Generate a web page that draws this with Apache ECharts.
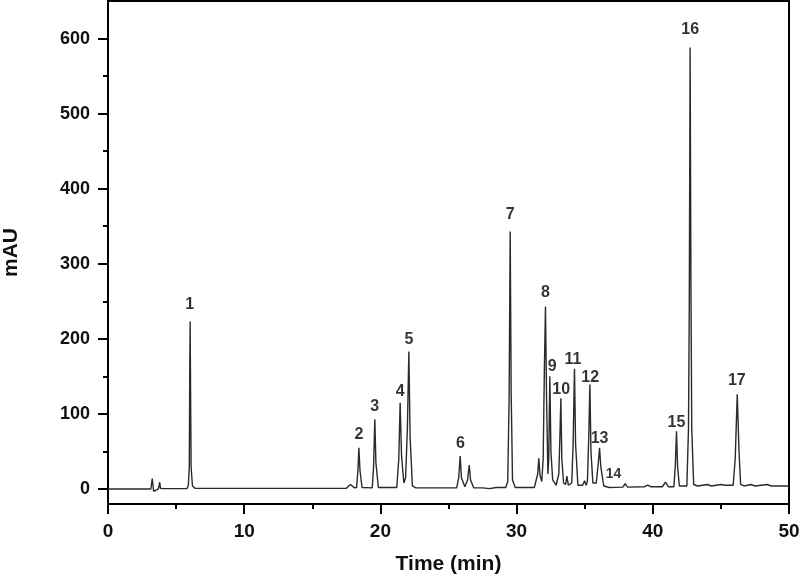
<!DOCTYPE html>
<html>
<head>
<meta charset="utf-8">
<script src="https://cdn.jsdelivr.net/npm/echarts@6/dist/echarts.min.js"></script>
<style>html,body{margin:0;padding:0;background:#fff;}#c{width:800px;height:583px;}</style>
</head>
<body>
<div id="c"></div>
<script>
// Chromatogram trace: [time (min), signal (mAU)]
var signal = [
  [0, 0], [3.15, 0], [3.25, 14], [3.3, 13], [3.35, -3], [3.5, -2], [3.7, 0], [3.8, 9], [3.85, 1], [4.0, 0.5],
  [5.8, 0.5], [5.9, 5], [5.97, 30], [6.0, 150], [6.03, 223], [6.06, 140], [6.1, 30], [6.2, 4], [6.4, 0.8],
  [17.5, 1], [17.8, 6], [18.1, 1.5],
  [18.25, 2], [18.35, 25], [18.42, 55], [18.5, 25], [18.65, 2],
  [19.4, 1.5], [19.5, 30], [19.59, 93], [19.67, 35], [19.85, 2],
  [21.2, 2], [21.35, 40], [21.45, 115], [21.55, 45], [21.72, 8], [21.85, 15], [21.98, 80], [22.09, 183], [22.18, 70], [22.35, 4], [22.6, 1.5],
  [25.6, 1.5], [25.75, 15], [25.86, 44], [25.95, 15], [26.2, 3], [26.4, 12], [26.52, 32], [26.62, 12], [26.85, 1.5],
  [27.5, 1.5], [28.0, 0.5], [28.5, 2], [29.2, 2], [29.35, 10], [29.45, 120], [29.53, 343], [29.6, 130], [29.7, 12], [29.9, 2],
  [31.3, 2], [31.55, 20], [31.63, 41], [31.72, 18], [31.85, 10], [31.95, 40], [32.04, 160], [32.12, 243], [32.2, 120], [32.3, 20],
  [32.36, 40], [32.44, 150], [32.52, 50], [32.65, 12], [32.9, 5], [33.1, 20], [33.18, 70], [33.25, 121], [33.32, 40], [33.45, 8],
  [33.6, 6], [33.69, 17], [33.8, 5], [34.05, 8], [34.15, 60], [34.25, 160], [34.33, 60], [34.5, 5], [34.85, 5], [34.99, 11],
  [35.1, 5], [35.2, 10], [35.3, 70], [35.38, 139], [35.46, 50], [35.6, 8], [35.85, 8], [36.0, 35], [36.09, 55], [36.18, 30],
  [36.4, 4], [36.8, 2],
  [37.8, 2.5], [37.97, 7], [38.15, 2.5], [39.4, 3], [39.63, 5], [39.85, 3], [40.7, 3], [40.93, 9], [41.15, 3],
  [41.55, 3], [41.65, 30], [41.74, 77], [41.82, 30], [41.95, 4],
  [42.5, 4], [42.62, 80], [42.68, 250], [42.74, 588], [42.8, 270], [42.86, 80], [43.0, 6], [43.3, 4],
  [44.0, 6], [44.3, 4], [45.0, 6], [45.3, 5], [45.9, 5], [46.05, 40], [46.2, 126], [46.33, 50], [46.45, 6], [46.7, 4],
  [47.2, 6], [47.5, 4], [48.4, 6], [48.7, 4], [50, 4]
];
// Peak number labels: anchor [time, mAU] and text
var peakNames = ['1','2','3','4','5','6','7','8','9','10','11','12','13','14','15','16','17'];
var peakLabelTime = [6.0, 18.42, 19.59, 21.45, 22.09, 25.88, 29.53, 32.12, 32.61, 33.27, 34.13, 35.40, 36.09, 37.11, 41.74, 42.75, 46.17];
var peakLabelMAU = [246, 72, 110, 130, 199, 61, 366, 261, 163, 133, 172, 149, 67, 20, 88, 612, 145];
var yMajorTicks = [0, 100, 200, 300, 400, 500, 600];
var yMinorTicks = [50, 150, 250, 350, 450, 550];

var labelData = peakNames.map(function (n, i) {
  return { value: [peakLabelTime[i], peakLabelMAU[i]], name: n,
    label: { fontSize: n === '14' ? 14 : 16 } };
});

var font = 'Liberation Sans, Arial, sans-serif';
var chart = echarts.init(document.getElementById('c'), null, { renderer: 'canvas' });
chart.setOption({
  backgroundColor: '#fff',
  animation: false,
  grid: { left: 108, right: 11, top: 1, bottom: 79, containLabel: false, outerBoundsMode: 'none',
    show: true, borderColor: '#000', borderWidth: 2, backgroundColor: 'transparent' },
  xAxis: {
    type: 'value', min: 0, max: 50, interval: 10,
    name: 'Time (min)', nameLocation: 'middle', nameGap: 50,
    nameTextStyle: { fontFamily: font, fontSize: 21, fontWeight: 'bold', color: '#111' },
    axisLine: { show: true, onZero: false, lineStyle: { color: '#000', width: 2 } },
    axisTick: { show: true, inside: false, length: 10, lineStyle: { color: '#000', width: 2 } },
    minorTick: { show: true, splitNumber: 2, length: 5, lineStyle: { color: '#000', width: 2 } },
    axisLabel: { fontFamily: font, fontSize: 19, fontWeight: 'bold', color: '#111', margin: 18 },
    splitLine: { show: false }, minorSplitLine: { show: false }
  },
  yAxis: [{
    type: 'value', min: -20, max: 650,
    name: 'mAU', nameLocation: 'middle', nameGap: 86, nameRotate: 90,
    nameTextStyle: { fontFamily: font, fontSize: 21, fontWeight: 'bold', color: '#111' },
    axisLine: { show: true, onZero: false, lineStyle: { color: '#000', width: 2 } },
    axisTick: { show: true, inside: false, length: 10, customValues: yMajorTicks, lineStyle: { color: '#000', width: 2 } },
    axisLabel: { fontFamily: font, fontSize: 18, fontWeight: 'bold', color: '#111', margin: 18, customValues: yMajorTicks },
    splitLine: { show: false }
  }, {
    type: 'value', min: -20, max: 650, position: 'left',
    axisLine: { show: false, onZero: false },
    axisTick: { show: true, inside: false, length: 5, customValues: yMinorTicks, lineStyle: { color: '#000', width: 2 } },
    axisLabel: { show: false, customValues: yMinorTicks },
    splitLine: { show: false }
  }],
  series: [{
    type: 'line', data: signal, symbol: 'none', smooth: false,
    lineStyle: { color: '#2a2a2a', width: 1.4 }, z: 3
  }, {
    type: 'scatter', data: labelData, symbolSize: 0,
    label: { show: true, position: 'inside', formatter: '{b}', fontFamily: font, fontWeight: 'bold', color: '#000', fontSize: 16 },
    z: 4
  }]
});
</script>
</body>
</html>
